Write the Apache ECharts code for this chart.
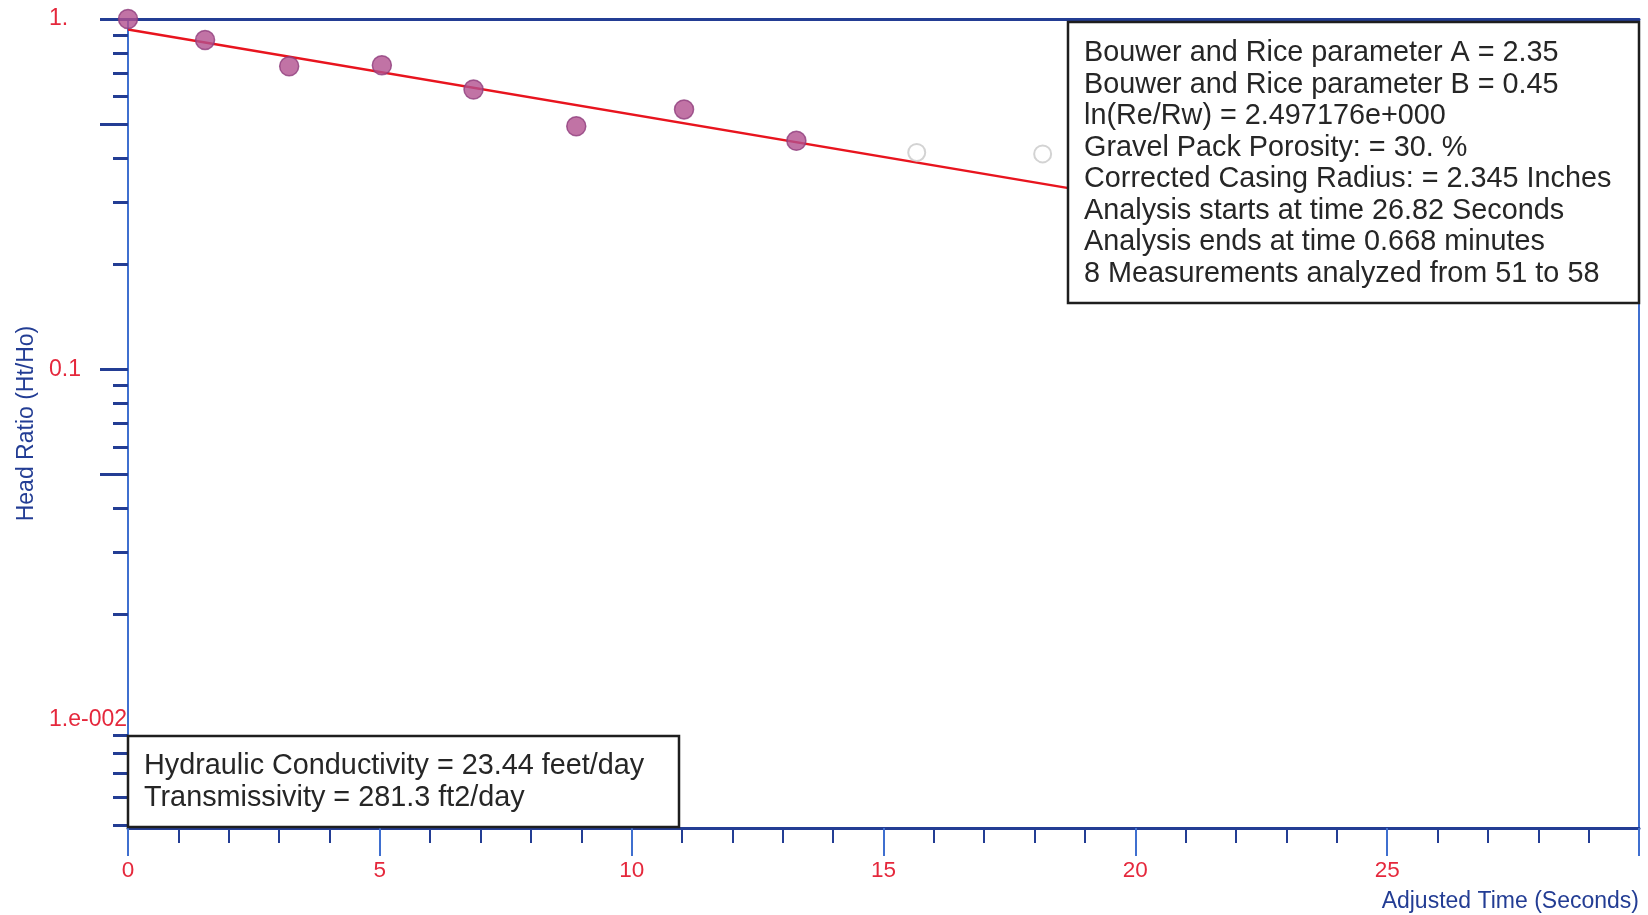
<!DOCTYPE html>
<html>
<head>
<meta charset="utf-8">
<title>Head Ratio vs Adjusted Time</title>
<script src="https://cdn.jsdelivr.net/npm/echarts@6/dist/echarts.min.js"></script>
<style>
  html, body { margin: 0; padding: 0; background: #ffffff; }
  #chart { width: 1648px; height: 915px; }
</style>
</head>
<body>
<div id="chart"></div>
<script>
// Measurements used in the fit (seconds, Ht/Ho)
const usedTime  = [0, 1.53, 3.20, 5.04, 6.86, 8.90, 11.04, 13.27];
const usedRatio = [1.0, 0.871, 0.733, 0.738, 0.629, 0.494, 0.552, 0.449];

// Later measurements outside the analysis window
const skippedTime  = [15.66, 18.16];
const skippedRatio = [0.416, 0.412];

// Straight-line (semi-log) fit end points
const fitTime  = [0, 20];
const fitRatio = [0.933, 0.3055];

// Axis extents
const timeMin = 0, timeMax = 30, timeStep = 5;
const ratioMin = 0.0049, ratioMax = 1;

// Log-axis tick positions and labels (the 0.01 tick sits under its label)
const ratioMajorTicks = [1, 0.5, 0.1, 0.05];
const ratioMinorTicks = [0.9, 0.8, 0.7, 0.6, 0.4, 0.3, 0.2,
                         0.09, 0.08, 0.07, 0.06, 0.04, 0.03, 0.02,
                         0.009, 0.008, 0.007, 0.006, 0.005];
const ratioLabelValues = [1, 0.1, 0.01];
const ratioLabelTexts  = ['1.', '0.1', '1.e-002'];

// Result panels
const parameterLines = [
  'Bouwer and Rice parameter A = 2.35',
  'Bouwer and Rice parameter B = 0.45',
  'ln(Re/Rw) = 2.497176e+000',
  'Gravel Pack Porosity: = 30. %',
  'Corrected Casing Radius: = 2.345 Inches',
  'Analysis starts at time 26.82 Seconds',
  'Analysis ends at time 0.668 minutes',
  '8 Measurements analyzed from 51 to 58'
];
const resultLines = [
  'Hydraulic Conductivity = 23.44 feet/day',
  'Transmissivity = 281.3 ft2/day'
];

// The vertical axis is laid out in log10 units
const lg = v => Math.log10(v);
const pairs = (xs, ys) => xs.map((x, i) => [x, lg(ys[i])]);

const FONT = '"Liberation Sans", Arial, sans-serif';
const DARK_BLUE = '#233d94';
const LIGHT_BLUE = '#3f6fcf';
const LABEL_RED = '#e5283c';
const TEXT_DARK = '#262626';

function labelFor(v) {
  for (let i = 0; i < ratioLabelValues.length; i++) {
    if (Math.abs(lg(ratioLabelValues[i]) - v) < 1e-6) return ratioLabelTexts[i];
  }
  return '';
}

const chart = echarts.init(document.getElementById('chart'), null, { renderer: 'canvas' });

chart.setOption({
  backgroundColor: '#ffffff',
  animation: false,
  grid: {
    left: 128, right: 9, top: 19, bottom: 87,
    containLabel: false, outerBoundsMode: 'none'
  },
  xAxis: [
    {
      type: 'value',
      position: 'bottom',
      min: timeMin, max: timeMax, interval: timeStep,
      name: 'Adjusted Time (Seconds)',
      nameLocation: 'end',
      nameGap: 0,
      nameTextStyle: {
        color: DARK_BLUE, fontFamily: FONT, fontSize: 23,
        align: 'right', verticalAlign: 'top', padding: [62, 0, 0, 0]
      },
      axisLine: { show: true, onZero: false, lineStyle: { color: DARK_BLUE, width: 3 } },
      axisTick: { show: true, length: 28, lineStyle: { color: LIGHT_BLUE, width: 2 } },
      minorTick: { show: true, splitNumber: 5, length: 15, lineStyle: { color: DARK_BLUE, width: 2 } },
      axisLabel: {
        color: LABEL_RED, fontFamily: FONT, fontSize: 22.5, margin: 31,
        showMaxLabel: false
      },
      splitLine: { show: false }
    },
    {
      type: 'value',
      position: 'top',
      min: timeMin, max: timeMax,
      axisLine: { show: true, onZero: false, lineStyle: { color: DARK_BLUE, width: 3 } },
      axisTick: { show: false },
      axisLabel: { show: false },
      splitLine: { show: false }
    }
  ],
  yAxis: [
    {
      type: 'value',
      position: 'left',
      min: lg(ratioMin), max: lg(ratioMax),
      name: 'Head Ratio (Ht/Ho)',
      nameLocation: 'middle',
      nameRotate: 90,
      nameGap: 89,
      nameTextStyle: { color: DARK_BLUE, fontFamily: FONT, fontSize: 23 },
      axisLine: { show: true, onZero: false, lineStyle: { color: LIGHT_BLUE, width: 2 } },
      axisTick: {
        show: true, length: 28,
        customValues: ratioMajorTicks.map(lg),
        lineStyle: { color: DARK_BLUE, width: 3 }
      },
      axisLabel: {
        show: true,
        customValues: ratioLabelValues.map(lg),
        formatter: labelFor,
        color: LABEL_RED, fontFamily: FONT, fontSize: 23,
        align: 'left', margin: 79, padding: [0, 0, 3, 0]
      },
      splitLine: { show: false }
    },
    {
      type: 'value',
      position: 'left',
      offset: 0,
      min: lg(ratioMin), max: lg(ratioMax),
      axisLine: { show: false },
      axisTick: {
        show: true, length: 15,
        customValues: ratioMinorTicks.map(lg),
        lineStyle: { color: DARK_BLUE, width: 3 }
      },
      axisLabel: { show: false },
      splitLine: { show: false }
    },
    {
      type: 'value',
      position: 'right',
      min: lg(ratioMin), max: lg(ratioMax),
      axisLine: { show: true, onZero: false, lineStyle: { color: LIGHT_BLUE, width: 2 } },
      axisTick: { show: false },
      axisLabel: { show: false },
      splitLine: { show: false }
    }
  ],
  series: [
    {
      name: 'Fit',
      type: 'line',
      data: pairs(fitTime, fitRatio),
      showSymbol: false,
      symbol: 'none',
      clip: true,
      lineStyle: { color: '#e8141e', width: 2.5 },
      z: 3
    },
    {
      name: 'Skipped',
      type: 'scatter',
      data: pairs(skippedTime, skippedRatio),
      symbol: 'circle',
      symbolSize: 17,
      clip: false,
      itemStyle: { color: '#ffffff', borderColor: '#c8c8c8', borderWidth: 2 },
      z: 4
    },
    {
      name: 'Measured',
      type: 'scatter',
      data: pairs(usedTime, usedRatio),
      symbol: 'circle',
      symbolSize: 19,
      clip: false,
      itemStyle: { color: '#b2508f', borderColor: '#8e3c7c', borderWidth: 1.5 },
      z: 5
    }
  ],
  graphic: [
    {
      type: 'group',
      z: 100,
      children: [
        {
          type: 'rect', z: 100,
          shape: { x: 1068, y: 22, width: 571, height: 281 },
          style: { fill: '#ffffff', stroke: '#1e1e1e', lineWidth: 2.5 }
        },
        {
          type: 'text', z: 101,
          x: 1084, y: 37.5,
          style: {
            text: parameterLines.join('\n'),
            font: '28.8px ' + FONT,
            fill: TEXT_DARK,
            lineHeight: 31.5,
            verticalAlign: 'top',
            align: 'left'
          }
        }
      ]
    },
    {
      type: 'group',
      z: 100,
      children: [
        {
          type: 'rect', z: 100,
          shape: { x: 128, y: 736, width: 551, height: 91 },
          style: { fill: '#ffffff', stroke: '#1e1e1e', lineWidth: 2.5 }
        },
        {
          type: 'text', z: 101,
          x: 144, y: 750.5,
          style: {
            text: resultLines.join('\n'),
            font: '28.8px ' + FONT,
            fill: TEXT_DARK,
            lineHeight: 32,
            verticalAlign: 'top',
            align: 'left'
          }
        }
      ]
    }
  ]
});
</script>
</body>
</html>
